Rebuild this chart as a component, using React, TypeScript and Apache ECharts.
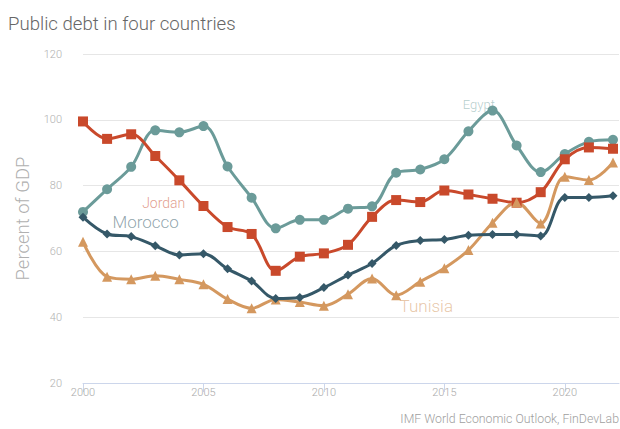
import React, { useEffect, useRef } from "react";
import * as echarts from "echarts";

const years = [2000, 2001, 2002, 2003, 2004, 2005, 2006, 2007, 2008, 2009, 2010, 2011, 2012, 2013, 2014, 2015, 2016, 2017, 2018, 2019, 2020, 2021, 2022];
const egypt = [72, 78.9, 85.7, 96.8, 96.2, 98.1, 85.8, 76.3, 67, 69.6, 69.6, 73, 73.7, 83.9, 84.9, 88, 96.5, 102.8, 92.2, 84.1, 89.6, 93.3, 93.9];
const jordan = [99.5, 94.2, 95.6, 89, 81.6, 73.8, 67.4, 65.3, 54.1, 58.4, 59.4, 62, 70.5, 75.6, 75, 78.5, 77.3, 76, 74.8, 78, 88, 91.6, 91.2];
const morocco = [70.4, 65.3, 64.5, 61.7, 58.9, 59.3, 54.7, 51, 45.7, 46, 49, 52.8, 56.3, 61.8, 63.3, 63.6, 64.9, 65.1, 65.1, 64.7, 76.4, 76.4, 76.9];
const tunisia = [62.9, 52.3, 51.5, 52.6, 51.5, 50, 45.5, 42.7, 45.4, 44.6, 43.5, 47, 51.8, 46.7, 50.8, 54.9, 60.4, 68.7, 74.9, 68.5, 82.7, 81.7, 87];
const yTicks = [20, 40, 60, 80, 100, 120];

const FONT = "Roboto";

function mk(name: string, vals: number[], color: string, symbol: string, size: number, labelAt: number[], labelColor: string, labelSize: number) {
  return {
    name,
    type: "line",
    smooth: 0.35,
    data: vals.map((v, i) => [years[i], v]),
    symbol,
    symbolSize: size,
    itemStyle: { color },
    lineStyle: { color, width: 3 },
    markPoint: {
      symbol: "circle",
      symbolSize: 0,
      silent: true,
      data: [{ coord: labelAt, value: name }],
      label: {
        show: true,
        position: "inside",
        formatter: name,
        color: labelColor,
        fontFamily: FONT,
        fontWeight: 300,
        fontSize: labelSize,
      },
    },
  };
}

export default function App() {
  const ref = useRef<HTMLDivElement>(null);
  useEffect(() => {
    const chart = echarts.init(ref.current!, null, { renderer: "svg" });
    chart.setOption({
      animation: false,
      backgroundColor: "#ffffff",
      textStyle: { fontFamily: FONT },
      title: {
        text: "Public debt in four countries",
        left: 3,
        top: 9,
        textStyle: { fontFamily: FONT, fontWeight: 300, fontSize: 18.6, color: "#666666" },
      },
      graphic: [
        {
          type: "text",
          right: 1,
          bottom: 4,
          style: {
            text: "IMF World Economic Outlook, FinDevLab",
            fill: "#a0a0a0",
            font: `300 12.3px ${FONT}`,
          },
        },
      ],
      grid: { left: 83, right: 1, top: 54, bottom: 46 },
      xAxis: {
        type: "value",
        min: 2000,
        max: 2022.25,
        interval: 5,
        axisLine: { show: true, lineStyle: { color: "#ccd6eb", width: 1 } },
        axisTick: { show: true, length: 9, lineStyle: { color: "#ccd6eb" } },
        splitLine: { show: false },
        axisLabel: {
          color: "#aaaaaa",
          fontFamily: FONT,
          fontWeight: 300,
          fontSize: 11,
          margin: 4,
          showMaxLabel: false,
          formatter: (v: number) => String(v),
        },
      },
      yAxis: {
        type: "value",
        min: yTicks[0],
        max: yTicks[yTicks.length - 1],
        interval: 20,
        name: "Percent of GDP",
        nameLocation: "middle",
        nameGap: 43,
        nameTextStyle: { color: "#b0b0b0", fontFamily: FONT, fontWeight: 300, fontSize: 18.5 },
        axisLine: { show: false },
        axisTick: { show: false },
        splitLine: { lineStyle: { color: "#e6e6e6", width: 1 } },
        axisLabel: { color: "#b0b0b0", fontFamily: FONT, fontWeight: 300, fontSize: 11, margin: 21 },
      },
      series: [
        mk("Egypt", egypt, "#6b9b99", "circle", 10, [2016.43, 104.6], "rgba(107,155,153,0.5)", 13),
        mk("Jordan", jordan, "#c9492b", "rect", 10, [2003.35, 74.8], "rgba(201,73,43,0.55)", 14),
        mk("Tunisia", tunisia, "#d4985f", "triangle", 10, [2014.25, 43.4], "rgba(212,152,95,0.55)", 17),
        mk("Morocco", morocco, "#355868", "diamond", 9, [2002.6, 69.0], "rgba(53,88,104,0.55)", 17),
      ],
    });
    return () => chart.dispose();
  }, []);
  return <div ref={ref} style={{ position: "absolute", left: 0, top: 0, width: 620, height: 429 }} />;
}
